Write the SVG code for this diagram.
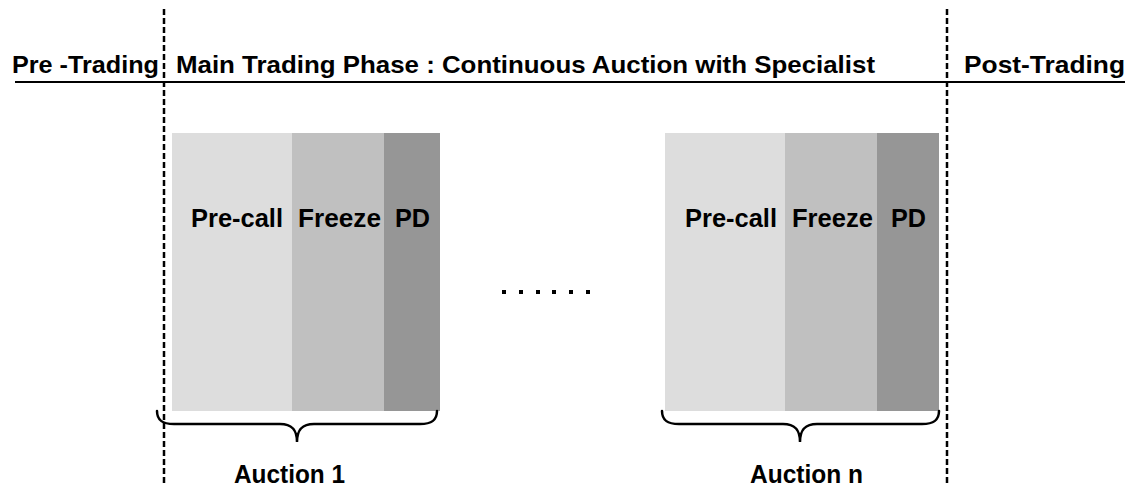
<svg xmlns="http://www.w3.org/2000/svg" width="1139" height="486" viewBox="0 0 1139 486">
<style>
.t{font-family:"Liberation Sans",Arial,sans-serif;font-weight:bold;fill:#000}
.h{font-size:24px}
.l{font-size:25px}
.dash{stroke:#000;stroke-width:2.5;stroke-dasharray:6,3;fill:none}
.brace{stroke:#000;stroke-width:2.5;fill:none;stroke-linecap:round}
.c1{fill:#DDDDDD}.c2{fill:#C0C0C0}.c3{fill:#969696}
</style>
<rect width="1139" height="486" fill="#fff"/>
<g id="connectors">
<line x1="15" y1="82" x2="1125" y2="82" stroke="#000" stroke-width="2"/>
<line class="dash" x1="164" y1="9" x2="164" y2="486"/>
<line class="dash" x1="947" y1="9" x2="947" y2="486"/>
</g>
<g id="header">
<text class="t h" x="12" y="73" textLength="147" lengthAdjust="spacingAndGlyphs">Pre -Trading</text>
<text class="t h" x="176" y="73" textLength="699" lengthAdjust="spacingAndGlyphs">Main Trading Phase : Continuous Auction with Specialist</text>
<text class="t h" x="964" y="73" textLength="161" lengthAdjust="spacingAndGlyphs">Post-Trading</text>
</g>
<g id="auction1">
<rect class="c1" x="172" y="133" width="120" height="278"/>
<rect class="c2" x="292" y="133" width="92" height="278"/>
<rect class="c3" x="384" y="133" width="56" height="278"/>
<text class="t l" x="191" y="227" textLength="92" lengthAdjust="spacingAndGlyphs">Pre-call</text>
<text class="t l" x="298" y="227" textLength="83" lengthAdjust="spacingAndGlyphs">Freeze</text>
<text class="t l" x="395" y="227" textLength="35" lengthAdjust="spacingAndGlyphs">PD</text>
<path class="brace" d="M157,411 C157,420 162,424 174,424 L280,424 C292,424 297,430 297,442 C297,430 302,424 314,424 L420,424 C432,424 437,420 437,411"/>
<text class="t l" x="234" y="483" textLength="111" lengthAdjust="spacingAndGlyphs">Auction 1</text>
</g>
<g id="ellipsis">
<rect x="502" y="290" width="4" height="4"/>
<rect x="519" y="290" width="4" height="4"/>
<rect x="536" y="290" width="4" height="4"/>
<rect x="552" y="290" width="4" height="4"/>
<rect x="569" y="290" width="4" height="4"/>
<rect x="586" y="290" width="4" height="4"/>
</g>
<g id="auctionN">
<rect class="c1" x="665" y="133" width="120" height="278"/>
<rect class="c2" x="785" y="133" width="92" height="278"/>
<rect class="c3" x="877" y="133" width="62" height="278"/>
<text class="t l" x="685" y="227" textLength="92" lengthAdjust="spacingAndGlyphs">Pre-call</text>
<text class="t l" x="792" y="227" textLength="81" lengthAdjust="spacingAndGlyphs">Freeze</text>
<text class="t l" x="891" y="227" textLength="35" lengthAdjust="spacingAndGlyphs">PD</text>
<path class="brace" d="M662,411 C662,420 667,424 679,424 L783,424 C795,424 800,430 800,442 C800,430 805,424 817,424 L922,424 C934,424 939,420 939,411"/>
<text class="t l" x="750" y="483" textLength="113" lengthAdjust="spacingAndGlyphs">Auction n</text>
</g>
</svg>
